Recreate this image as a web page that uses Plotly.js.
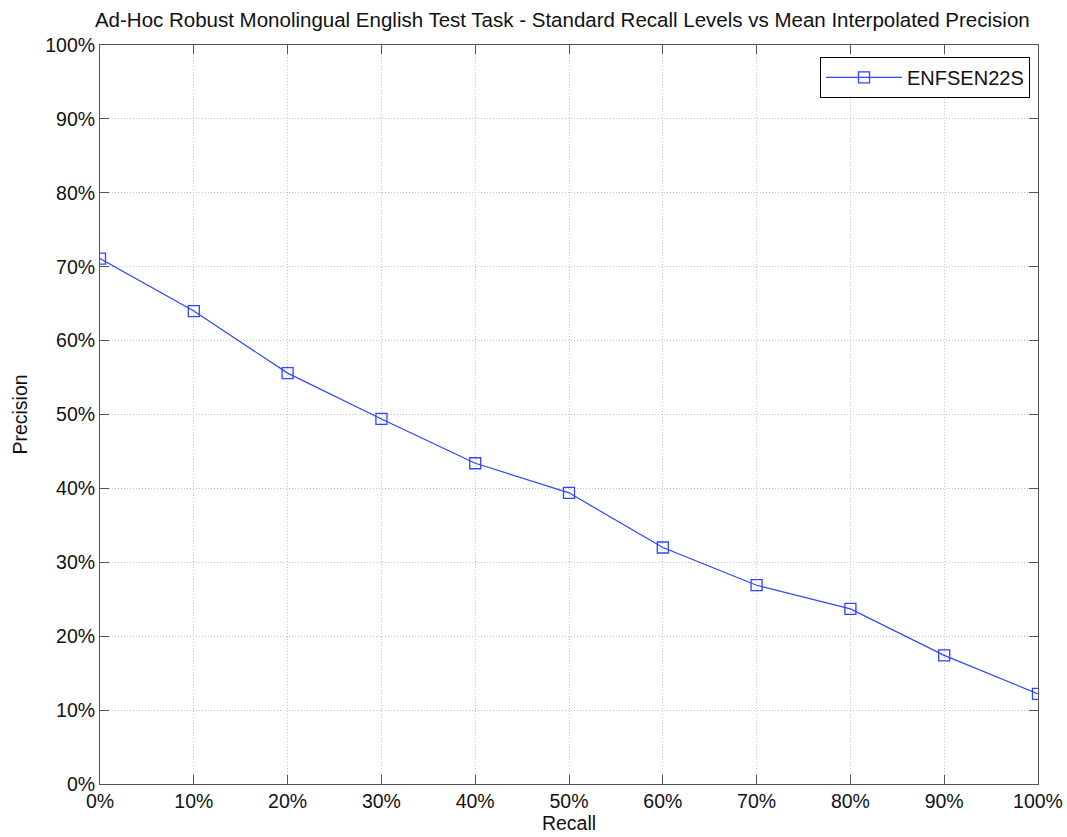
<!DOCTYPE html>
<html>
<head>
<meta charset="utf-8">
<script src="https://cdn.plot.ly/plotly-3.0.1.min.js"></script>
<style>html,body{margin:0;padding:0;background:#fff}#chart{width:1067px;height:837px}</style>
</head>
<body>
<div id="chart"></div>
<script>
const recall = [0, 10, 20, 30, 40, 50, 60, 70, 80, 90, 100];
const precision = [71.1, 64.0, 55.6, 49.4, 43.4, 39.4, 32.0, 26.9, 23.7, 17.4, 12.2];
const seriesName = 'ENFSEN22S';
const tickVals = [0, 10, 20, 30, 40, 50, 60, 70, 80, 90, 100];
const tickLabels = ['0%', '10%', '20%', '30%', '40%', '50%', '60%', '70%', '80%', '90%', '100%'];

const fam = 'Liberation Sans, Arial, sans-serif';
const font = {family: fam, size: 19.5, color: '#111'};
const axisCommon = {
  range: [0, 100],
  tickvals: tickVals,
  ticktext: tickLabels,
  ticks: 'inside',
  ticklen: 9,
  tickcolor: '#555',
  tickwidth: 1,
  showline: true,
  linecolor: '#555',
  linewidth: 1,
  mirror: 'ticks',
  showgrid: true,
  gridcolor: '#c4c4c4',
  griddash: '1px,2px',
  gridwidth: 1,
  zeroline: false,
  tickfont: font,
  fixedrange: true
};

Plotly.newPlot('chart', [{
  x: recall,
  y: precision,
  name: seriesName,
  type: 'scatter',
  mode: 'lines+markers',
  line: {color: 'rgb(45,70,255)', width: 1.2},
  marker: {symbol: 'square-open', size: 11, color: 'rgb(45,70,255)', line: {width: 1.3}}
}], {
  width: 1067,
  height: 837,
  margin: {l: 100, r: 29, t: 45, b: 53},
  paper_bgcolor: '#fff',
  plot_bgcolor: '#fff',
  font: font,
  showlegend: true,
  title: {text: 'Ad-Hoc Robust Monolingual English Test Task - Standard Recall Levels vs Mean Interpolated Precision',
          font: {family: fam, size: 20.5, color: '#111'},
          x: 0.527, xanchor: 'center', y: 0.976, yanchor: 'middle'},
  xaxis: Object.assign({}, axisCommon, {
    title: {text: 'Recall', font: font, standoff: 2}
  }),
  yaxis: Object.assign({}, axisCommon, {
    title: {text: 'Precision', font: font, standoff: 12}
  }),
  legend: {
    x: 0.9915, y: 0.984, xanchor: 'right', yanchor: 'top',
    bordercolor: '#000', borderwidth: 1, bgcolor: '#fff',
    itemwidth: 76,
    font: {family: fam, size: 20, color: '#111'}
  }
}, {displayModeBar: false, staticPlot: true});
</script>
</body>
</html>
